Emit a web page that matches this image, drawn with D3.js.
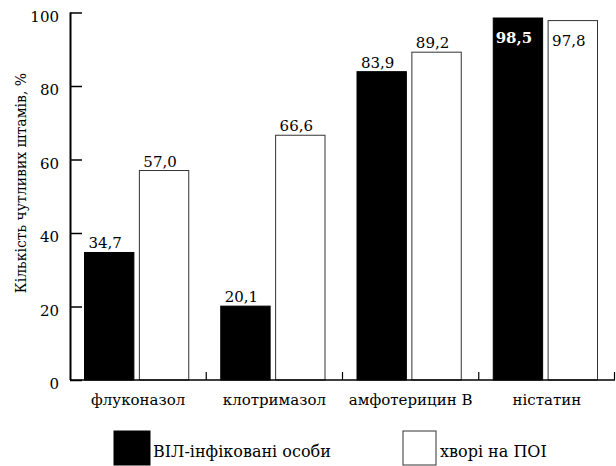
<!DOCTYPE html>
<html><head><meta charset="utf-8">
<script src="https://cdn.jsdelivr.net/npm/d3@7"></script>
<style>svg text{font-family:"DejaVu Serif" !important;}</style>
</head><body style="margin:0">
<script>
const categories = ["флуконазол","клотримазол","амфотерицин В","ністатин"];
const seriesNames = ["ВІЛ-інфіковані особи","хворі на ПОІ"];
const hivValues = [34.7, 20.1, 83.9, 98.5];
const poiValues = [57.0, 66.6, 89.2, 97.8];
const hivLabels = ["34,7","20,1","83,9","98,5"];
const poiLabels = ["57,0","66,6","89,2","97,8"];
const yTicks = [0,20,40,60,80,100];
const yTitle = "Кількість чутливих штамів, %";

const FF='DejaVu Serif';
const W=616,H=466;
const svg=d3.select("body").append("svg").attr("width",W).attr("height",H)
  .attr("font-family",FF).attr("font-size",15);
const mL=70, mR=615, mT=12.5, mB=380;
const y=d3.scaleLinear().domain([0,100]).range([mB,mT]);
const x0=d3.scaleBand().domain(categories).range([mL,mR]).padding(0);
const x1=d3.scaleBand().domain(seriesNames).range([14.5,x0.bandwidth()-17.5]).paddingInner(0.1);

const data=categories.map((c,i)=>({c,vals:[
  {s:seriesNames[0],v:hivValues[i],l:hivLabels[i]},
  {s:seriesNames[1],v:poiValues[i],l:poiLabels[i]}]}));

function setFont(sel,size){
  sel.attr("font-family",FF).attr("font-size",size)
     .style("font-family",'"'+FF+'"').style("font-size",size+"px");
}

const groups=svg.append("g").selectAll("g.grp").data(data).join("g").attr("transform",d=>`translate(${x0(d.c)},0)`);
groups.selectAll("rect").data(d=>d.vals).join("rect")
  .attr("x",d=>x1(d.s)).attr("width",x1.bandwidth())
  .attr("y",d=>y(d.v)).attr("height",d=>y(0)-y(d.v))
  .attr("fill",(d,i)=>i===0?"#000":"#fff")
  .attr("stroke",(d,i)=>i===0?"#000":"#333").attr("stroke-width",1);

const vl=groups.selectAll("text.val").data(d=>d.vals).join("text").attr("class","val")
  .attr("x",d=>x1(d.s)+x1.bandwidth()/2-4)
  .attr("y",d=>d.v>95? y(d.v)+25 : y(d.v)-4)
  .attr("text-anchor","middle")
  .attr("fill",(d,i)=>(d.v>95&&i===0)?"#fff":"#000")
  .attr("font-weight",(d,i)=>(d.v>95&&i===0)?"bold":"normal")
  .text(d=>d.l);
setFont(vl,15);

const yAxis=d3.axisRight(y).tickValues(yTicks).tickSize(12).tickFormat(d3.format("d"));
const ya=svg.append("g").attr("transform",`translate(${mL},0)`).call(yAxis);
ya.attr("font-family",FF).attr("font-size",15);
ya.select(".domain").attr("d",`M0.5,${mT}V${mB}`).attr("stroke","#000").attr("stroke-width",2);
ya.selectAll(".tick line").attr("stroke","#000").attr("stroke-width",1.5);
const yt=ya.selectAll(".tick text").attr("x",-11).attr("dy","0.57em").attr("text-anchor","end").attr("fill","#000");
setFont(yt,15);

const xAxis=d3.axisBottom(x0).tickSize(0).tickPadding(14);
const xa=svg.append("g").attr("transform",`translate(0,${mB})`).call(xAxis);
xa.attr("font-family",FF).attr("font-size",15);
xa.select(".domain").attr("d",`M${mL},0H${mR}`).attr("stroke","#000").attr("stroke-width",1.5);
setFont(xa.selectAll(".tick text").attr("fill","#000"),15);
svg.append("g").selectAll("line").data(categories.slice(1).concat(["__end"])).join("line")
  .attr("x1",d=>d==="__end"?mR-0.5:x0(d)).attr("x2",d=>d==="__end"?mR-0.5:x0(d))
  .attr("y1",mB).attr("y2",mB-8).attr("stroke","#000").attr("stroke-width",1.2);

const tt=svg.append("text").attr("transform",`translate(26,183) rotate(-90)`)
  .attr("text-anchor","middle").text(yTitle);
setFont(tt,14);

const legX=[114,403];
const leg=svg.append("g").selectAll("g").data(seriesNames).join("g")
  .attr("transform",(d,i)=>`translate(${legX[i]},431)`);
leg.append("rect").attr("width",(d,i)=>i===0?36:33).attr("height",34)
  .attr("fill",(d,i)=>i===0?"#000":"#fff").attr("stroke",(d,i)=>i===0?"#000":"#333");
setFont(leg.append("text").attr("x",(d,i)=>i===0?39:37).attr("y",26).text(d=>d),16);
</script>
</body></html>
